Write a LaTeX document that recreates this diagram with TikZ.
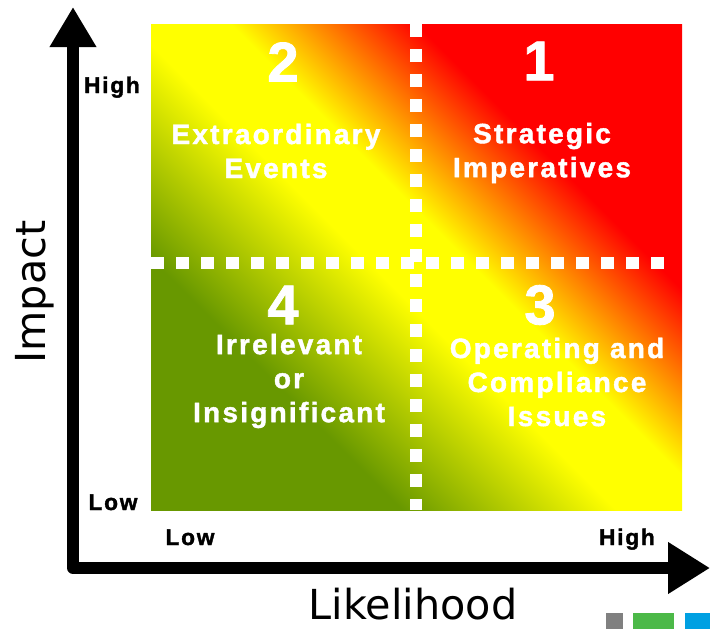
\documentclass[tikz,border=0pt]{standalone}
\usepackage{fontspec}
\setmainfont{Liberation Sans}
\newfontfamily\axisfont{DejaVu Sans}
\newfontfamily\quadfont{Liberation Sans}[LetterSpace=8, BoldFeatures={FakeBold=1.5}]
\usetikzlibrary{arrows.meta}

\definecolor{riskgreen}{RGB}{104,152,0}
\definecolor{logogray}{RGB}{128,128,128}
\definecolor{logogreen}{RGB}{76,185,72}
\definecolor{logoblue}{RGB}{0,160,226}

\pgfdeclareverticalshading{riskfade}{100bp}{color(0bp)=(riskgreen); color(32bp)=(riskgreen); color(47bp)=(yellow); color(54bp)=(yellow); color(67bp)=(red); color(100bp)=(red)}

\tikzset{
  axisline/.style={line width=9pt, line join=round,
    {Triangle[length=30pt,width=33pt]}-{Triangle[length=31.5pt,width=36.75pt]}},
  divider/.style={white, line width=9pt, dash pattern=on 9.75pt off 9pt},
  scalelabel/.style={anchor=base, font=\quadfont\bfseries\fontsize{17}{17}\selectfont},
  axistitle/.style={inner sep=1pt, font=\axisfont\fontsize{31}{31}\selectfont},
}

\begin{document}
\begin{tikzpicture}[x=0.75pt,y=-0.75pt]
  \useasboundingbox (0,0) rectangle (710,629);

  % the matrix
  \shade[shading=riskfade, shading angle=-45] (151,24) rectangle (682,510);
  \draw[divider] (151,263) -- (672,263);
  \draw[divider] (416,24) -- (416,510);

  \begin{scope}[every node/.style={text=white, font=\quadfont\bfseries\fontsize{42}{42}\selectfont}]
    \node (n1) at (539,61)  {1};
    \node (n2) at (283,62)  {2};
    \node (n3) at (540,305) {3};
    \node (n4) at (283,305) {4};
  \end{scope}

  \begin{scope}[every node/.style={text=white, align=center,
      font=\quadfont\bfseries\fontsize{21}{25.5}\selectfont}]
    \node (q1) at (542,153) {Strategic\\Imperatives};
    \node (q2) at (276,151) {Extraordinary\\Events};
    \node (q3) at (557,382) {Operating and\\Compliance\\Issues};
    \node (q4) at (289,381) {Irrelevant\\or\\Insignificant};
  \end{scope}

  % axes
  \coordinate (origin) at (73,568);
  \coordinate (ytip)   at (73,7);
  \coordinate (xtip)   at (710,568);
  \draw[axisline] (ytip) -- (origin) -- (xtip);

  \node[scalelabel] (yhigh) at (112,93)  {High};
  \node[scalelabel] (ylow)  at (113,510) {Low};
  \node[scalelabel] (xlow)  at (190,545) {Low};
  \node[scalelabel] (xhigh) at (627,545) {High};

  \node[axistitle, rotate=90] (impact) at (35,292) {Impact};
  \node[axistitle] (likelihood) at (413,604) {Likelihood};

  % logo strip
  \fill[logogray]  (606,613) rectangle (623,629);
  \fill[logogreen] (633,613) rectangle (674,629);
  \fill[logoblue]  (685,613) rectangle (710,629);
\end{tikzpicture}
\end{document}
